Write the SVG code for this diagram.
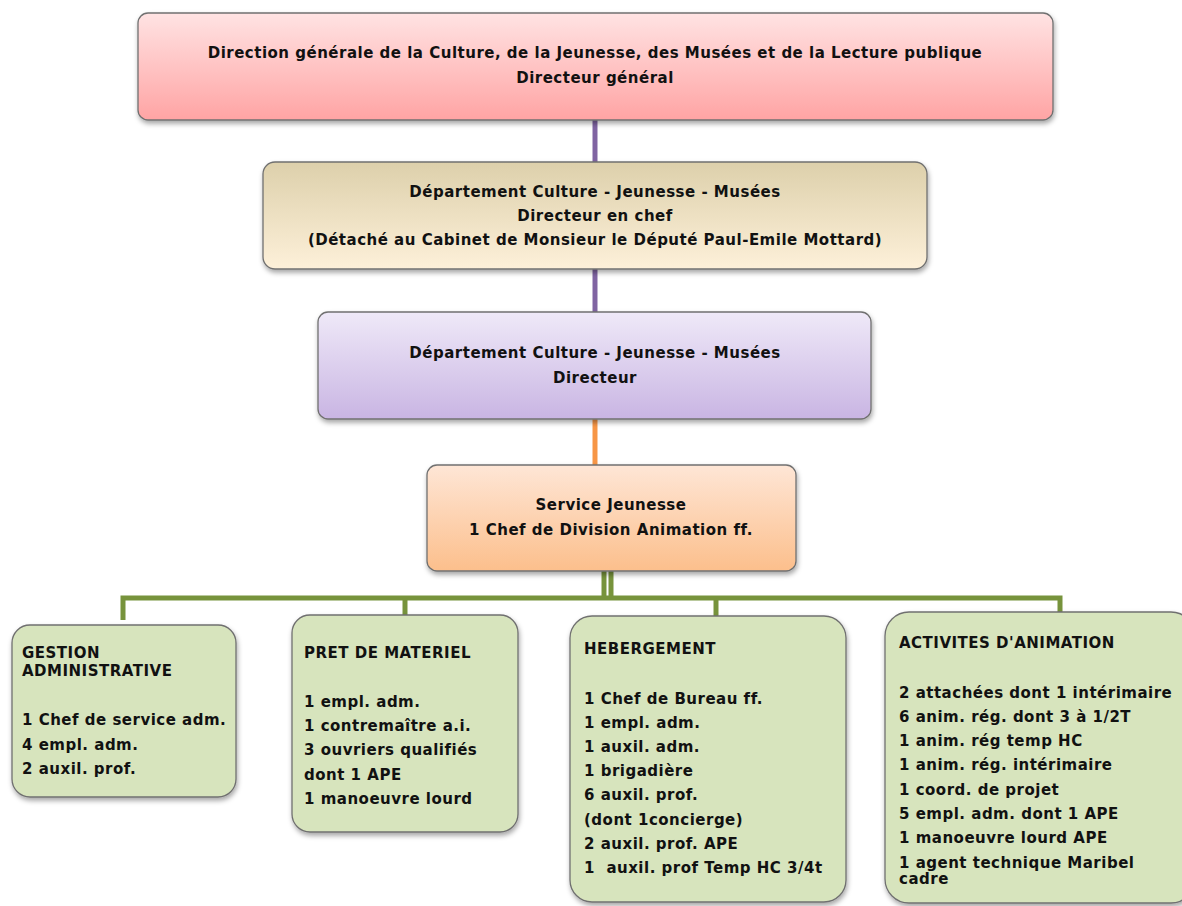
<svg xmlns="http://www.w3.org/2000/svg" width="1182" height="906" viewBox="0 0 1182 906">
<defs>
<linearGradient id="gRed" x1="0" y1="0" x2="0" y2="1"><stop offset="0" stop-color="#ffe3e3"/><stop offset="1" stop-color="#ffa4a4"/></linearGradient>
<linearGradient id="gTan" x1="0" y1="0" x2="0" y2="1"><stop offset="0" stop-color="#ddd0ab"/><stop offset="1" stop-color="#fdf0d9"/></linearGradient>
<linearGradient id="gPur" x1="0" y1="0" x2="0" y2="1"><stop offset="0" stop-color="#efe9f8"/><stop offset="1" stop-color="#c9b5e3"/></linearGradient>
<linearGradient id="gOra" x1="0" y1="0" x2="0" y2="1"><stop offset="0" stop-color="#fee6d6"/><stop offset="1" stop-color="#fcbf8c"/></linearGradient>
<filter id="sh" x="-5%" y="-10%" width="110%" height="130%"><feDropShadow dx="1" dy="3" stdDeviation="2.5" flood-color="#000" flood-opacity="0.35"/></filter>
<style>
.box{stroke:#707070;stroke-width:1.3;filter:url(#sh)}
.grn{fill:#d7e4bd}
.t{font-family:"DejaVu Sans",Verdana,sans-serif;font-weight:bold;font-size:15px;letter-spacing:0.5px;fill:#111}
.c{text-anchor:middle}
.pl{stroke:#8064a2;stroke-width:5;fill:none}
.ol{stroke:#f79646;stroke-width:5;fill:none}
.gl{stroke:#77933c;stroke-width:5;fill:none}
</style>
</defs>
<g id="connectors">
<line class="pl" x1="595" y1="118" x2="595" y2="164"/>
<line class="pl" x1="595" y1="267" x2="595" y2="314"/>
<line class="ol" x1="595" y1="417" x2="595" y2="467"/>
<line class="gl" x1="604" y1="570" x2="604" y2="598"/>
<line class="gl" x1="611" y1="570" x2="611" y2="598"/>
<polyline class="gl" points="123,620 123,598 1060,598 1060,614"/>
<line class="gl" x1="405" y1="598" x2="405" y2="617"/>
<line class="gl" x1="716" y1="598" x2="716" y2="618"/>
</g>
<g id="n1">
<rect class="box" x="138" y="13" width="915" height="107" rx="10" fill="url(#gRed)"/>
<text class="t c" x="595" y="58">Direction générale de la Culture, de la Jeunesse, des Musées et de la Lecture publique</text>
<text class="t c" x="595" y="83">Directeur général</text>
</g>
<g id="n2">
<rect class="box" x="263" y="162" width="664" height="107" rx="12" fill="url(#gTan)"/>
<text class="t c" x="595" y="197">Département Culture - Jeunesse - Musées</text>
<text class="t c" x="595" y="221">Directeur en chef</text>
<text class="t c" x="595" y="245">(Détaché au Cabinet de Monsieur le Député Paul-Emile Mottard)</text>
</g>
<g id="n3">
<rect class="box" x="318" y="312" width="553" height="107" rx="10" fill="url(#gPur)"/>
<text class="t c" x="595" y="358">Département Culture - Jeunesse - Musées</text>
<text class="t c" x="595" y="383">Directeur</text>
</g>
<g id="n4">
<rect class="box" x="427" y="465" width="369" height="106" rx="10" fill="url(#gOra)"/>
<text class="t c" x="611" y="510">Service Jeunesse</text>
<text class="t c" x="611" y="535">1 Chef de Division Animation ff.</text>
</g>
<g id="n5">
<rect class="box grn" x="12" y="625" width="224" height="172" rx="18"/>
<text class="t" x="22" y="658">GESTION</text>
<text class="t" x="22" y="676">ADMINISTRATIVE</text>
<text class="t" x="22" y="725">1 Chef de service adm.</text>
<text class="t" x="22" y="750">4 empl. adm.</text>
<text class="t" x="22" y="774">2 auxil. prof.</text>
</g>
<g id="n6">
<rect class="box grn" x="292" y="615" width="226" height="217" rx="18"/>
<text class="t" x="304" y="658">PRET DE MATERIEL</text>
<text class="t" x="304" y="707">1 empl. adm.</text>
<text class="t" x="304" y="731">1 contremaître a.i.</text>
<text class="t" x="304" y="755">3 ouvriers qualifiés</text>
<text class="t" x="304" y="780">dont 1 APE</text>
<text class="t" x="304" y="804">1 manoeuvre lourd</text>
</g>
<g id="n7">
<rect class="box grn" x="570" y="616" width="276" height="286" rx="22"/>
<text class="t" x="584" y="654">HEBERGEMENT</text>
<text class="t" x="584" y="704">1 Chef de Bureau ff.</text>
<text class="t" x="584" y="728">1 empl. adm.</text>
<text class="t" x="584" y="752">1 auxil. adm.</text>
<text class="t" x="584" y="776">1 brigadière</text>
<text class="t" x="584" y="800">6 auxil. prof.</text>
<text class="t" x="584" y="825">(dont 1concierge)</text>
<text class="t" x="584" y="849">2 auxil. prof. APE</text>
<text class="t" x="584" y="873" xml:space="preserve">1  auxil. prof Temp HC 3/4t</text>
</g>
<g id="n8">
<rect class="box grn" x="885" y="612" width="310" height="291" rx="24"/>
<text class="t" x="899" y="648">ACTIVITES D'ANIMATION</text>
<text class="t" x="899" y="698">2 attachées dont 1 intérimaire</text>
<text class="t" x="899" y="722">6 anim. rég. dont 3 à 1/2T</text>
<text class="t" x="899" y="746">1 anim. rég temp HC</text>
<text class="t" x="899" y="770">1 anim. rég. intérimaire</text>
<text class="t" x="899" y="795">1 coord. de projet</text>
<text class="t" x="899" y="819">5 empl. adm. dont 1 APE</text>
<text class="t" x="899" y="843">1 manoeuvre lourd APE</text>
<text class="t" x="899" y="868">1 agent technique Maribel</text>
<text class="t" x="899" y="884">cadre</text>
</g>
</svg>
